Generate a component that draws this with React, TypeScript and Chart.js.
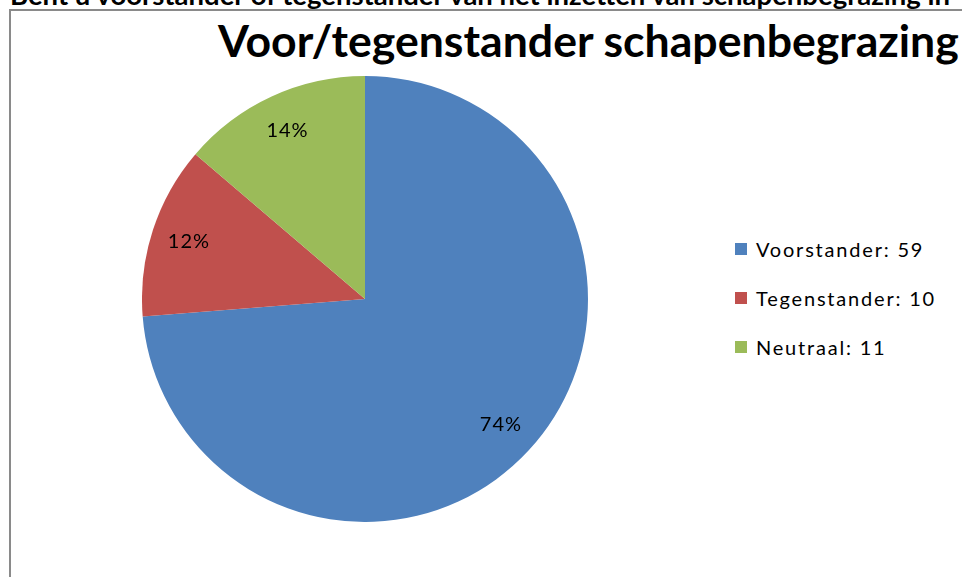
import React, { useEffect, useRef } from "react";
import { Chart, registerables } from "chart.js";

Chart.register(...registerables);

const categories = ["Voorstander", "Tegenstander", "Neutraal"];
const counts = [59, 10, 11];
const shownPercents = [74, 12, 14];
const sliceColors = ["#4F81BD", "#C0504D", "#9BBB59"];
const chartTitle = "Voor/tegenstander schapenbegrazing";
const questionText = "Bent u voorstander of tegenstander van het inzetten van schapenbegrazing in";

const FONT = "Lato, 'Open Sans', sans-serif";

const pctLabels = {
  id: "pctLabels",
  afterDatasetsDraw(chart: any) {
    const ctx = chart.ctx;
    const meta = chart.getDatasetMeta(0);
    ctx.save();
    ctx.fillStyle = "#000000";
    ctx.font = `20px ${FONT}`;
    try {
      (ctx as any).letterSpacing = "1px";
    } catch (e) {}
    ctx.textAlign = "center";
    ctx.textBaseline = "middle";
    meta.data.forEach((arc: any, i: number) => {
      const p = arc.getProps(["x", "y", "startAngle", "endAngle", "outerRadius"], true);
      const mid = (p.startAngle + p.endAngle) / 2;
      const r = p.outerRadius * 0.83;
      const x = p.x + Math.cos(mid) * r;
      const y = p.y + Math.sin(mid) * r;
      ctx.fillText(shownPercents[i] + "%", x, y);
    });
    ctx.restore();
  },
};

export default function App() {
  const ref = useRef<HTMLCanvasElement>(null);
  useEffect(() => {
    if (!ref.current) return;
    const chart = new Chart(ref.current, {
      type: "pie",
      data: {
        labels: categories,
        datasets: [
          {
            data: counts,
            backgroundColor: sliceColors,
            borderWidth: 0,
          },
        ],
      },
      options: {
        animation: false,
        responsive: false,
        maintainAspectRatio: false,
        layout: { padding: 0 },
        plugins: {
          legend: { display: false },
          title: { display: false },
          tooltip: { enabled: false },
        },
      },
      plugins: [pctLabels],
    });
    return () => chart.destroy();
  }, []);

  return (
    <div
      style={{
        position: "fixed",
        left: 0,
        top: 0,
        width: 962,
        height: 577,
        overflow: "hidden",
        background: "#ffffff",
        fontFamily: FONT,
      }}
    >
      <div
        style={{
          position: "absolute",
          left: 10,
          top: -19,
          whiteSpace: "nowrap",
          fontWeight: 700,
          fontSize: 27.5,
          lineHeight: "27px",
          color: "#000",
        }}
      >
        {questionText}
      </div>
      <div
        style={{
          position: "absolute",
          left: 9,
          top: 9,
          width: 1100,
          height: 700,
          border: "2px solid #8a8a8a",
          boxSizing: "border-box",
        }}
      />
      <div
        style={{
          position: "absolute",
          left: 218,
          top: 15,
          whiteSpace: "nowrap",
          fontWeight: 700,
          fontSize: 44.6,
          lineHeight: "50px",
          color: "#000",
        }}
      >
        {chartTitle}
      </div>
      <canvas
        ref={ref}
        width={446}
        height={446}
        style={{ position: "absolute", left: 142, top: 76, width: 446, height: 446 }}
      />
      <div style={{ position: "absolute", left: 735, top: 224 }}>
        {categories.map((c, i) => (
          <div
            key={c}
            style={{
              display: "flex",
              alignItems: "center",
              height: 49,
              fontSize: 20,
              color: "#000",
              whiteSpace: "nowrap",
              lineHeight: "26px",
            }}
          >
            <span
              style={{
                display: "inline-block",
                width: 12,
                height: 12,
                background: sliceColors[i],
                marginRight: 9,
              }}
            />
            <span style={{ letterSpacing: 1.8 }}>{`${c}: ${counts[i]}`}</span>
          </div>
        ))}
      </div>
    </div>
  );
}
